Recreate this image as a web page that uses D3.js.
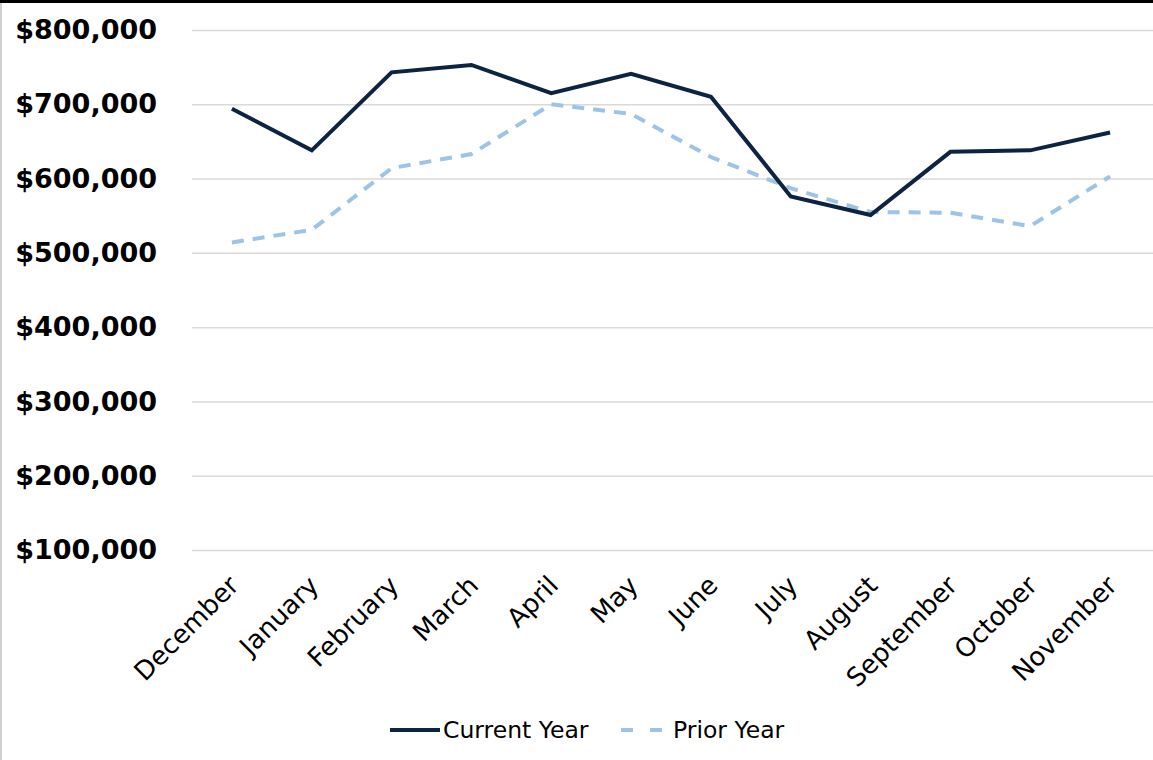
<!DOCTYPE html>
<html>
<head>
<meta charset="utf-8">
<script src="https://cdn.jsdelivr.net/npm/d3@7"></script>
<style>
  body { margin: 0; background: #fff; }
  svg { display: block; }
</style>
</head>
<body>
<div id="chart"></div>
<script>
// Chart data
var months = ["December", "January", "February", "March", "April", "May", "June",
    "July", "August", "September", "October", "November"];
var currentYear = [694000, 638000, 743000, 753000, 715000, 741000, 710000, 576000, 551000, 636000, 638000, 662000];
var priorYear = [514000, 531000, 614000, 633000, 700000, 687000, 629000, 587000, 555000, 554000, 536000, 603000];
var yTicks = [100000, 200000, 300000, 400000, 500000, 600000, 700000, 800000];

// Set SVG area dimensions
var svgWidth = 1153;
var svgHeight = 760;
var chartMargin = { top: 30, right: 3, bottom: 210, left: 192 };
var chartWidth = svgWidth - chartMargin.left - chartMargin.right;
var chartHeight = svgHeight - chartMargin.top - chartMargin.bottom;

var svg = d3.select("#chart")
    .append("svg")
    .attr("width", svgWidth)
    .attr("height", svgHeight);

// frame bits from the screenshot
svg.append("rect")
    .attr("x", 0).attr("y", 0)
    .attr("width", svgWidth).attr("height", 3)
    .attr("fill", "#000");
svg.append("line")
    .attr("x1", 1).attr("x2", 1)
    .attr("y1", 3).attr("y2", svgHeight)
    .attr("stroke", "#d0d0d0")
    .attr("stroke-width", 2);

var chartGroup = svg.append("g")
    .attr("transform", `translate(${chartMargin.left}, ${chartMargin.top})`);

// Scales
var xScale = d3.scalePoint()
    .domain(months)
    .range([0, chartWidth])
    .padding(0.5);
var yScale = d3.scaleLinear()
    .domain([100000, 800000])
    .range([chartHeight, 0]);

// Gridlines + y labels
var leftAxis = d3.axisLeft(yScale)
    .tickValues(yTicks)
    .tickSize(-(svgWidth - chartMargin.left))
    .tickPadding(35)
    .tickFormat(d => "$" + d3.format(",")(d));
var yAxis = chartGroup.append("g").call(leftAxis);
yAxis.select(".domain").remove();
yAxis.selectAll(".tick line")
    .attr("stroke", "#d9d9d9")
    .attr("stroke-width", 1.5);
yAxis.selectAll(".tick text")
    .attr("fill", "#000")
    .style("font-family", "DejaVu Sans")
    .style("font-weight", "bold")
    .style("font-size", "27px");

// x labels, rotated
var bottomAxis = d3.axisBottom(xScale).tickSize(0).tickPadding(0);
var xAxis = chartGroup.append("g")
    .attr("transform", `translate(0, ${chartHeight})`)
    .call(bottomAxis);
xAxis.select(".domain").remove();
xAxis.selectAll(".tick text")
    .attr("fill", "#000")
    .attr("y", 0)
    .attr("dy", 0)
    .attr("transform", "translate(8, 37) rotate(-45)")
    .style("text-anchor", "end")
    .style("font-family", "DejaVu Sans")
    .style("font-size", "26px");

// Lines
var line = d3.line()
    .x((d, i) => xScale(months[i]))
    .y(d => yScale(d));

chartGroup.append("path")
    .datum(priorYear)
    .attr("d", line)
    .attr("fill", "none")
    .attr("stroke", "#9dc3e6")
    .attr("stroke-width", 4)
    .attr("stroke-dasharray", "12,9");

chartGroup.append("path")
    .datum(currentYear)
    .attr("d", line)
    .attr("fill", "none")
    .attr("stroke", "#0c2341")
    .attr("stroke-width", 4);

// Legend
var legend = svg.append("g").attr("transform", "translate(0, 730)");
legend.append("line")
    .attr("x1", 390).attr("x2", 440)
    .attr("stroke", "#0c2341").attr("stroke-width", 4);
legend.append("text")
    .attr("x", 443).attr("y", 8)
    .style("font-family", "DejaVu Sans")
    .style("font-size", "23.5px")
    .text("Current Year");
legend.append("line")
    .attr("x1", 621).attr("x2", 669)
    .attr("stroke", "#9dc3e6").attr("stroke-width", 4)
    .attr("stroke-dasharray", "12,17");
legend.append("text")
    .attr("x", 673).attr("y", 8)
    .style("font-family", "DejaVu Sans")
    .style("font-size", "23.5px")
    .text("Prior Year");
</script>
</body>
</html>
